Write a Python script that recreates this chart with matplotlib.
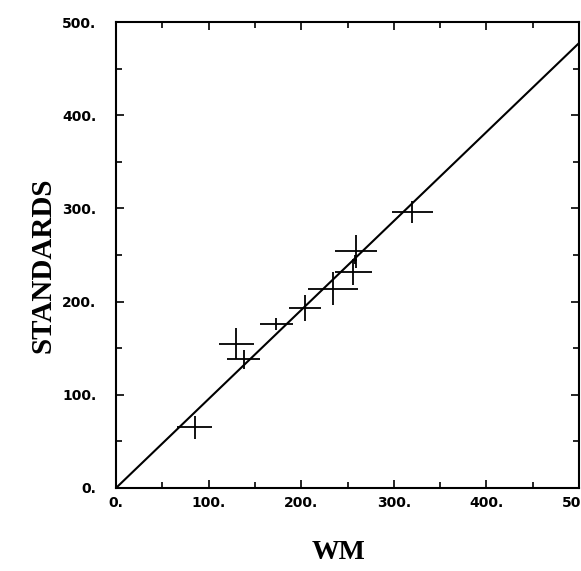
import numpy as np
import matplotlib
matplotlib.use('Agg')
import matplotlib.pyplot as plt

# data
wm = [85, 130, 138, 173, 204, 234, 256, 258, 259, 320]
wm_err = [19, 19, 18, 18, 17, 27, 20, 2, 23, 22]
std = [65, 155, 138, 176, 193, 214, 232, 245, 254, 296]
std_err = [12, 17, 10, 6, 14, 18, 14, 5, 18, 12]
slope = 0.955
ticks = [0, 100, 200, 300, 400, 500]
tick_labels = ['0.', '100.', '200.', '300.', '400.', '500.']

fig = plt.figure(figsize=(5.81, 5.71), dpi=100)
ax = fig.add_axes([0.1997, 0.1454, 0.797, 0.816])

ax.errorbar(wm, std, xerr=wm_err, yerr=std_err, fmt='none',
            ecolor='black', elinewidth=1.3, capsize=0)
xx = np.array([0, 500])
ax.plot(xx, slope * xx, color='black', lw=1.5)

ax.set_xlim(0, 500)
ax.set_ylim(0, 500)
ax.set_xticks(ticks)
ax.set_xticklabels(tick_labels)
ax.set_yticks(ticks)
ax.set_yticklabels(tick_labels)
ax.set_xticks(np.arange(50, 500, 100), minor=True)
ax.set_yticks(np.arange(50, 500, 100), minor=True)
ax.tick_params(which='both', direction='in', top=True, right=True,
               width=1.2, labelsize=10)
ax.tick_params(which='major', length=6)
ax.tick_params(which='minor', length=4)
ax.tick_params(axis='x', pad=6)
ax.tick_params(axis='y', pad=14)
for lab in ax.get_xticklabels() + ax.get_yticklabels():
    lab.set_fontweight('bold')
for s in ax.spines.values():
    s.set_linewidth(1.5)

fig.text(0.074, 0.536, 'STANDARDS', rotation=90, ha='center', va='center',
         family='Liberation Serif', fontsize=21, fontweight='bold')
fig.text(0.583, 0.032, 'WM', ha='center', va='center',
         family='Liberation Serif', fontsize=20, fontweight='bold')

plt.savefig('out.png', dpi=100)
